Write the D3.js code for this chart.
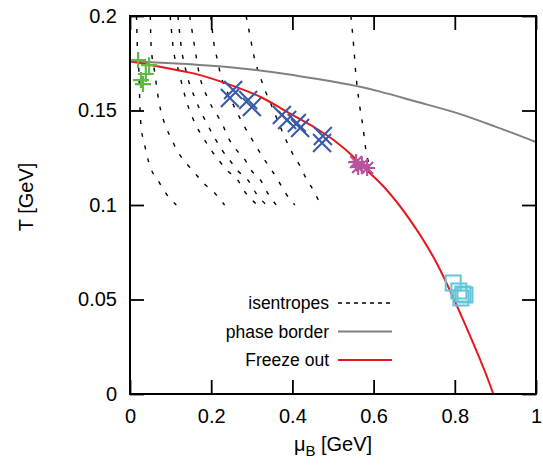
<!DOCTYPE html>
<html>
<head>
<meta charset="utf-8">
<script src="https://cdn.jsdelivr.net/npm/d3@7"></script>
<style>
body{margin:0;background:#fff;}
svg text{font-family:"Liberation Sans", Arial, Helvetica, sans-serif;fill:#000;}
</style>
</head>
<body>
<svg id="chart" width="543" height="466"></svg>
<script>

// ---------------- DATA ----------------
const xTicks = [0, 0.2, 0.4, 0.6, 0.8, 1];
const xTickLabels = ["0", "0.2", "0.4", "0.6", "0.8", "1"];
const yTicks = [0, 0.05, 0.1, 0.15, 0.2];
const yTickLabels = ["0", "0.05", "0.1", "0.15", "0.2"];

// isentropes, each one [muB, T]
const isentropes = [
  [[0.016,0.2],[0.018,0.184],[0.022,0.170],[0.024,0.155],[0.028,0.140],[0.034,0.134],[0.042,0.126],[0.052,0.119],[0.069,0.113],[0.089,0.106],[0.114,0.1]],
  [[0.050,0.2],[0.052,0.184],[0.061,0.170],[0.071,0.155],[0.089,0.141],[0.102,0.135],[0.118,0.128],[0.139,0.122],[0.159,0.117],[0.184,0.111],[0.210,0.106],[0.233,0.1]],
  [[0.099,0.2],[0.106,0.184],[0.121,0.170],[0.139,0.155],[0.163,0.142],[0.182,0.135],[0.200,0.129],[0.221,0.123],[0.241,0.118],[0.266,0.113],[0.286,0.106],[0.315,0.1]],
  [[0.118,0.2],[0.126,0.184],[0.139,0.170],[0.163,0.155],[0.192,0.142],[0.210,0.135],[0.227,0.129],[0.248,0.123],[0.266,0.118],[0.291,0.113],[0.311,0.106],[0.336,0.1]],
  [[0.147,0.2],[0.159,0.184],[0.170,0.170],[0.195,0.155],[0.229,0.142],[0.241,0.136],[0.259,0.130],[0.283,0.124],[0.300,0.118],[0.322,0.113],[0.340,0.106],[0.360,0.1]],
  [[0.199,0.2],[0.207,0.185],[0.215,0.177],[0.222,0.170],[0.246,0.157],[0.278,0.143],[0.311,0.131],[0.328,0.125],[0.347,0.119],[0.365,0.113],[0.381,0.107],[0.406,0.1]],
  [[0.286,0.2],[0.297,0.188],[0.303,0.181],[0.311,0.174],[0.322,0.167],[0.332,0.161],[0.344,0.155],[0.365,0.144],[0.385,0.134],[0.401,0.127],[0.418,0.121],[0.434,0.114],[0.451,0.108],[0.470,0.1]],
  [[0.544,0.2],[0.551,0.184],[0.556,0.170],[0.564,0.155],[0.574,0.141],[0.581,0.129],[0.589,0.121],[0.596,0.112]]
];

const phaseBorder = [[0,0.176],[0.077,0.1753],[0.241,0.173],[0.406,0.1686],[0.570,0.1624],[0.616,0.160],[0.7,0.155],[0.8,0.149],[0.9,0.1415],[1.0,0.1333]];

const freezeOut = [[0,0.176],[0.077,0.173],[0.159,0.1695],[0.241,0.164],[0.323,0.157],[0.389,0.149],[0.455,0.141],[0.504,0.134],[0.553,0.125],[0.583,0.1185],[0.628,0.109],[0.69,0.092],[0.751,0.071],[0.821,0.039],[0.883,0.007],[0.895,0]];

// measured points
const greenPts = [[0.020,0.1767],[0.047,0.1740],[0.039,0.1693],[0.027,0.1661],[0.032,0.1640]];
const bluePts  = [[0.254,0.1608],[0.246,0.1566],[0.291,0.1555],[0.300,0.1518],[0.374,0.1476],[0.387,0.1450],[0.411,0.1434],[0.419,0.1407],[0.475,0.1365],[0.473,0.1328]];
const pinkPts  = [[0.557,0.1227],[0.562,0.1201],[0.571,0.1211],[0.584,0.1196]];
const cyanPts  = [[0.796,0.0587],[0.810,0.0545],[0.820,0.0529],[0.815,0.0508],[0.825,0.0524]];

const legendLabels = ["isentropes", "phase border", "Freeze out"];


(()=> {

const width = 543, height = 466;
const margin = {top:16, right:7, bottom:72, left:130};

const x = d3.scaleLinear().domain([0,1]).range([margin.left, width - margin.right]);
const y = d3.scaleLinear().domain([0,0.2]).range([height - margin.bottom, margin.top]);

let svg = d3.select("#chart");

svg.append("clipPath").attr("id","plotClip")
  .append("rect")
  .attr("x", x(0)).attr("y", y(0.2))
  .attr("width", x(1) - x(0)).attr("height", y(0) - y(0.2));

let plot = svg.append("g").attr("clip-path","url(#plotClip)");

let line = d3.line().x(d => x(d[0])).y(d => y(d[1])).curve(d3.curveMonotoneX);

// -------------- CURVES ----------------------------
plot.selectAll(".iso")
  .data(isentropes)
  .enter()
  .append("path")
  .attr("class","iso")
  .attr("d", line)
  .attr("fill","none")
  .attr("stroke","#000")
  .attr("stroke-width",1.4)
  .attr("stroke-dasharray","4,9");

plot.append("path").datum(phaseBorder)
  .attr("d", line).attr("fill","none")
  .attr("stroke","#808080").attr("stroke-width",2);

plot.append("path").datum(freezeOut)
  .attr("d", line).attr("fill","none")
  .attr("stroke","#e8161b").attr("stroke-width",2);

// -------------- MARKERS ----------------------------
// own symbol types, size = half width in px
const plusSym = {draw(c, r){ c.moveTo(-r,0); c.lineTo(r,0); c.moveTo(0,-r); c.lineTo(0,r); }};
const timesSym = {draw(c, r){ c.moveTo(-r,-r); c.lineTo(r,r); c.moveTo(-r,r); c.lineTo(r,-r); }};
const starSym = {draw(c, r){
  c.moveTo(-r,0); c.lineTo(r,0); c.moveTo(0,-r); c.lineTo(0,r);
  let k = r * 0.75;
  c.moveTo(-k,-k); c.lineTo(k,k); c.moveTo(-k,k); c.lineTo(k,-k);
}};
const squareSym = {draw(c, r){ c.rect(-r,-r,2*r,2*r); }};

function drawPts(pts, sym, size, color, sw){
  svg.append("g").selectAll("path")
    .data(pts)
    .enter()
    .append("path")
    .attr("transform", d => "translate(" + x(d[0]) + "," + y(d[1]) + ")")
    .attr("d", d3.symbol().type(sym).size(size))
    .attr("fill","none")
    .attr("stroke", color)
    .attr("stroke-width", sw);
}

drawPts(greenPts, plusSym, 8, "#62b846", 2.2);
drawPts(bluePts, timesSym, 9, "#3a5aa8", 2.1);
drawPts(pinkPts, starSym, 8, "#b8539f", 2.1);
drawPts(cyanPts, squareSym, 7.5, "#62c5d8", 2);

// -------------- AXES ----------------------------
function styleAxis(g){
  g.select(".domain").remove();
  g.selectAll("line").attr("stroke","#000").attr("stroke-width",1.8);
  g.attr("font-size", 20).attr("font-family", null);
}

svg.append("g").attr("transform","translate(0," + y(0) + ")")
  .call(d3.axisBottom(x).tickValues(xTicks).tickFormat((d,i) => xTickLabels[i]).tickSize(-14).tickPadding(15))
  .call(styleAxis);

svg.append("g").attr("transform","translate(0," + y(0.2) + ")")
  .call(d3.axisTop(x).tickValues(xTicks).tickFormat("").tickSize(-14))
  .call(styleAxis);

svg.append("g").attr("transform","translate(" + x(0) + ",0)")
  .call(d3.axisLeft(y).tickValues(yTicks).tickFormat((d,i) => yTickLabels[i]).tickSize(-14).tickPadding(13))
  .call(styleAxis);

svg.append("g").attr("transform","translate(" + x(1) + ",0)")
  .call(d3.axisRight(y).tickValues(yTicks).tickFormat("").tickSize(-14))
  .call(styleAxis);

svg.append("rect")
  .attr("x", x(0)).attr("y", y(0.2))
  .attr("width", x(1) - x(0)).attr("height", y(0) - y(0.2))
  .attr("fill","none").attr("stroke","#000").attr("stroke-width",2);

// axis titles
let xt = svg.append("text")
  .attr("x", (x(0) + x(1)) / 2).attr("y", 451)
  .attr("text-anchor","middle").attr("font-size",20);
xt.append("tspan").text("μ");
xt.append("tspan").attr("font-size",15).attr("dy",5).text("B");
xt.append("tspan").attr("dy",-5).text(" [GeV]");

svg.append("text")
  .attr("transform","translate(33," + ((y(0) + y(0.2)) / 2 - 8) + ") rotate(-90)")
  .attr("text-anchor","middle").attr("font-size",20)
  .text("T [GeV]");

// -------------- LEGEND ----------------------------
const legStroke = ["#000", "#808080", "#e8161b"];
const legDash = ["4,4", null, null];
const legWidth = [1.3, 2, 2];

let leg = svg.append("g").selectAll("g")
  .data(legendLabels)
  .enter()
  .append("g")
  .attr("transform", (d,i) => "translate(0," + (303 + i * 28.5) + ")");

leg.append("text")
  .attr("x", 329).attr("dy","0.35em")
  .attr("text-anchor","end").attr("font-size",17.5)
  .text(d => d);

leg.append("line")
  .attr("x1", 338).attr("x2", 392)
  .attr("stroke", (d,i) => legStroke[i])
  .attr("stroke-width", (d,i) => legWidth[i])
  .attr("stroke-dasharray", (d,i) => legDash[i]);

})();
</script>
</body>
</html>
